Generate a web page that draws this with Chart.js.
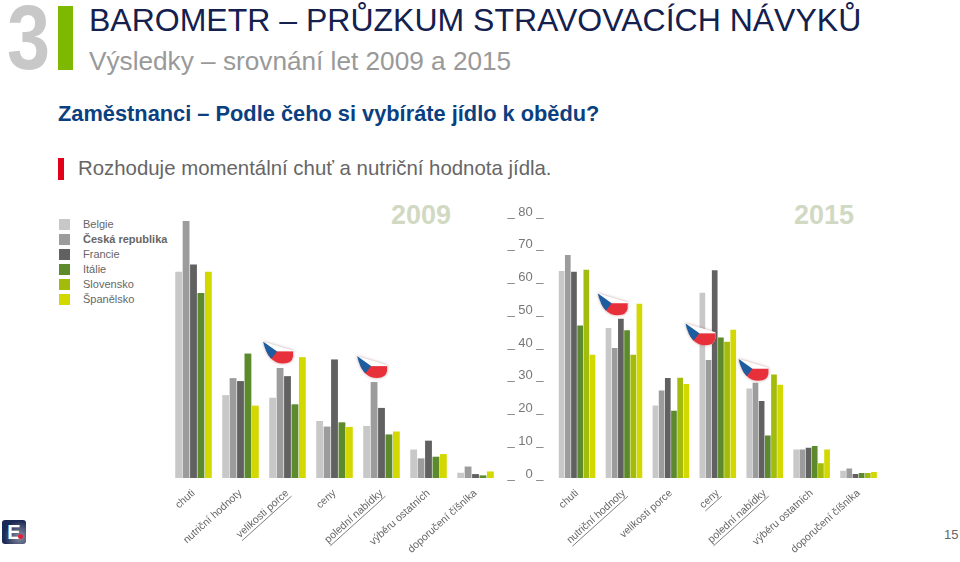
<!DOCTYPE html>
<html lang="cs">
<head>
<meta charset="utf-8">
<title>Barometr</title>
<script src="https://cdn.jsdelivr.net/npm/chart.js@4"></script>
<style>
  html, body { margin: 0; padding: 0; background: #fff; }
  body { width: 960px; height: 562px; position: relative; overflow: hidden; font-family: "Liberation Sans", Arial, sans-serif; }
  .abs { position: absolute; white-space: nowrap; }
  #legend { left: 58px; top: 217px; font-size: 11px; color: #666; line-height: 15px; }
  #legend div { height: 15px; padding-left: 25px; position: relative; }
  #legend i { position: absolute; left: 1px; top: 2px; width: 11px; height: 11px; }
  .chart { position: absolute; }
</style>
</head>
<body>
<div class="abs" style="left:7px;top:-12px;font-size:90px;font-weight:bold;color:#c8c8c8;line-height:100px;transform:scaleX(.86);transform-origin:left top;">3</div>
<div class="abs" style="left:58px;top:6px;width:15px;height:64px;background:#7fb800;"></div>
<div class="abs" style="left:89px;top:1px;font-size:32px;color:#14204d;line-height:38px;">BAROMETR – PRŮZKUM STRAVOVACÍCH NÁVYKŮ</div>
<div class="abs" style="left:89px;top:46px;font-size:26.2px;color:#999;line-height:30px;">Výsledky – srovnání let 2009 a 2015</div>
<div class="abs" style="left:58px;top:101px;font-size:21.8px;font-weight:bold;color:#0b4080;line-height:26px;">Zaměstnanci – Podle čeho si vybíráte jídlo k obědu?</div>
<div class="abs" style="left:58px;top:158px;width:6px;height:22px;background:#e2001a;"></div>
<div class="abs" style="left:78px;top:155px;font-size:20.4px;color:#666;line-height:26px;">Rozhoduje momentální chuť a nutriční hodnota jídla.</div>

<div class="abs" id="legend"></div>
<div class="abs" style="left:391px;top:200px;font-size:27px;font-weight:bold;color:#d2d9c3;line-height:30px;">2009</div>
<div class="abs" style="left:794px;top:200px;font-size:27px;font-weight:bold;color:#d2d9c3;line-height:30px;">2015</div>

<div class="chart" style="left:170px;top:206px;width:329px;height:356px;"><canvas id="chart2009"></canvas></div>
<div class="chart" style="left:500px;top:206px;width:382px;height:356px;"><canvas id="chart2015"></canvas></div>

<div class="abs" style="left:2px;top:520px;width:24px;height:24px;border-radius:3px;background:radial-gradient(circle at 75% 70%, #8a8fa3 0, #1b2a55 65%);color:#fff;font-size:20px;font-weight:bold;line-height:24px;text-align:center;">E</div>
<div class="abs" style="left:18px;top:534px;width:5px;height:5px;border-radius:50%;background:#e2203a;"></div>
<div class="abs" style="left:944px;top:527px;font-size:13px;color:#666;line-height:16px;">15</div>

<script>
const categories = ['chuti', 'nutriční hodnoty', 'velikosti porce', 'ceny', 'polední nabídky', 'výběru ostatních', 'doporučení číšníka'];
const yTicks = [0, 10, 20, 30, 40, 50, 60, 70, 80];

const countries = ['Belgie', 'Česká republika', 'Francie', 'Itálie', 'Slovensko', 'Španělsko'];
const countryColors = ['#c8c8c8', '#9c9c9c', '#616161', '#5c8a2c', '#a3bb0a', '#d2d800'];

const belgie2009 = [63, 25.3, 24.5, 17.4, 15.9, 8.7, 1.6];
const cesko2009 = [78.5, 30.5, 33.6, 15.7, 29.3, 6, 3.5];
const francie2009 = [65.2, 29.6, 31.1, 36.2, 21.4, 11.4, 1.2];
const italie2009 = [56.5, 38, 22.5, 17, 13.3, 6.5, 0.8];
const spanelsko2009 = [63, 22.1, 36.9, 15.6, 14.2, 7.3, 2];

const belgie2015 = [63.2, 45.8, 22.1, 56.6, 27.3, 8.7, 2.2];
const cesko2015 = [68.1, 39.7, 26.7, 36, 29.1, 8.7, 2.9];
const francie2015 = [63, 48.6, 30.5, 63.4, 23.5, 9.2, 1.2];
const italie2015 = [46.6, 45.1, 20.5, 42.9, 13, 9.8, 1.5];
const slovensko2015 = [63.6, 37.6, 30.6, 41.6, 31.6, 4.5, 1.5];
const spanelsko2015 = [37.6, 53.2, 28.7, 45.3, 28.5, 8.7, 1.8];

// categories where the Czech flag sits, the value at the flag's lower edge, and the dataset whose bar it lines up with
const flagCategories2009 = [2, 4];
const flagValues2009 = [35, 30.5];
const flagDatasets2009 = [1, 1];
const flagCategories2015 = [1, 3, 4];
const flagValues2015 = [49.7, 40.5, 29.7];
const flagDatasets2015 = [1, 0, 1];

// underlined labels per chart
const underlined2009 = ['velikosti porce', 'polední nabídky'];
const underlined2015 = ['nutriční hodnoty', 'ceny', 'polední nabídky'];

const FONT = '"Liberation Sans", Arial, sans-serif';

// legend lives in the page because it spans both charts
document.getElementById('legend').innerHTML = countries.map((name, i) =>
  '<div' + (i === 1 ? ' style="font-weight:bold"' : '') + '><i style="background:' + countryColors[i] + '"></i>' + name + '</div>'
).join('');

const makeDatasets = (rows) => rows.map(([countryIndex, data]) => ({
  label: countries[countryIndex],
  data: data,
  backgroundColor: countryColors[countryIndex]
}));

// flag above a bar + underline under some rotated labels
const decorations = (flagCats, flagVals, flagSets, underlined) => ({
  id: 'decorations',
  afterDatasetsDraw(chart) {
    const ctx = chart.ctx;
    flagCats.forEach((cat, i) => {
      const x = chart.getDatasetMeta(flagSets[i]).data[cat].x - 2;
      const y = chart.scales.y.getPixelForValue(flagVals[i]);
      drawFlag(ctx, x, y);
    });
    const items = chart.scales.x.getLabelItems();
    ctx.save();
    ctx.font = '10.5px ' + FONT;
    ctx.strokeStyle = '#666';
    ctx.lineWidth = 0.8;
    categories.forEach((cat, i) => {
      if (!underlined.includes(cat)) return;
      const w = ctx.measureText(cat).width;
      const o = items[i].options;
      ctx.save();
      ctx.translate(o.translation[0], o.translation[1]);
      ctx.rotate(o.rotation);
      const ly = items[i].textOffset + 6;
      ctx.beginPath();
      ctx.moveTo(-w, ly);
      ctx.lineTo(0, ly);
      ctx.stroke();
      ctx.restore();
    });
    ctx.restore();
  }
});

function drawFlag(ctx, cx, bottom) {
  const l = cx - 15, t = bottom - 22;
  ctx.save();
  ctx.shadowColor = 'rgba(120,40,40,0.45)';
  ctx.shadowBlur = 3;
  ctx.beginPath();
  ctx.moveTo(l, t);
  ctx.lineTo(l + 30, t + 9);
  ctx.lineTo(l + 30, t + 15);
  ctx.quadraticCurveTo(l + 29, t + 22, l + 20, t + 22);
  ctx.quadraticCurveTo(l + 5, t + 22, l, t);
  ctx.closePath();
  ctx.fillStyle = '#fff';
  ctx.fill();
  ctx.shadowColor = 'transparent';
  ctx.clip();
  ctx.fillStyle = '#e8303a';
  ctx.fillRect(l, t + 10, 31, 13);
  ctx.beginPath();
  ctx.moveTo(l, t);
  ctx.lineTo(l + 14, t + 10);
  ctx.lineTo(l + 7, t + 19);
  ctx.lineTo(l, t + 19);
  ctx.closePath();
  ctx.fillStyle = '#1d5c9e';
  ctx.fill();
  ctx.restore();
}

const makeChart = (canvasId, datasets, opts) => new Chart(document.getElementById(canvasId), {
  type: 'bar',
  data: { labels: categories, datasets: datasets },
  plugins: [decorations(opts.flagCats, opts.flagVals, opts.flagSets, opts.underlined)],
  options: {
    responsive: true,
    maintainAspectRatio: false,
    animation: false,
    layout: { autoPadding: false, padding: { top: 10, left: 0, right: 0, bottom: 0 } },
    datasets: { bar: { categoryPercentage: opts.catPct, barPercentage: opts.barPct } },
    plugins: { legend: { display: false }, title: { display: false }, tooltip: { enabled: false } },
    scales: {
      x: {
        grid: { display: false },
        border: { display: false },
        afterFit: (scale) => { scale.height = 84; },
        ticks: {
          autoSkip: false,
          minRotation: 42,
          maxRotation: 42,
          padding: 1,
          color: '#666',
          font: { family: FONT, size: 10.5 }
        }
      },
      y: {
        display: opts.showAxis,
        min: 0,
        max: 80,
        grid: { display: false, drawTicks: false },
        border: { display: false },
        afterFit: (scale) => { scale.width = opts.axisWidth; scale.paddingTop = 0; scale.paddingBottom = 0; },
        afterBuildTicks: (scale) => { scale.ticks = yTicks.map(v => ({ value: v })); },
        ticks: {
          padding: 10,
          labelOffset: -4,
          color: '#777',
          font: { family: FONT, size: 13 },
          callback: (v) => '_ ' + (v < 10 ? '\u2007' + v : v) + ' _'
        }
      }
    }
  }
});

makeChart('chart2009', makeDatasets([
  [0, belgie2009], [1, cesko2009], [2, francie2009], [3, italie2009], [5, spanelsko2009]
]), { catPct: 0.79, barPct: 0.92, showAxis: false, axisWidth: 0, flagCats: flagCategories2009, flagVals: flagValues2009, flagSets: flagDatasets2009, underlined: underlined2009 });

makeChart('chart2015', makeDatasets([
  [0, belgie2015], [1, cesko2015], [2, francie2015], [3, italie2015], [4, slovensko2015], [5, spanelsko2015]
]), { catPct: 0.79, barPct: 0.92, showAxis: true, axisWidth: 53.6, flagCats: flagCategories2015, flagVals: flagValues2015, flagSets: flagDatasets2015, underlined: underlined2015 });
</script>
</body>
</html>
